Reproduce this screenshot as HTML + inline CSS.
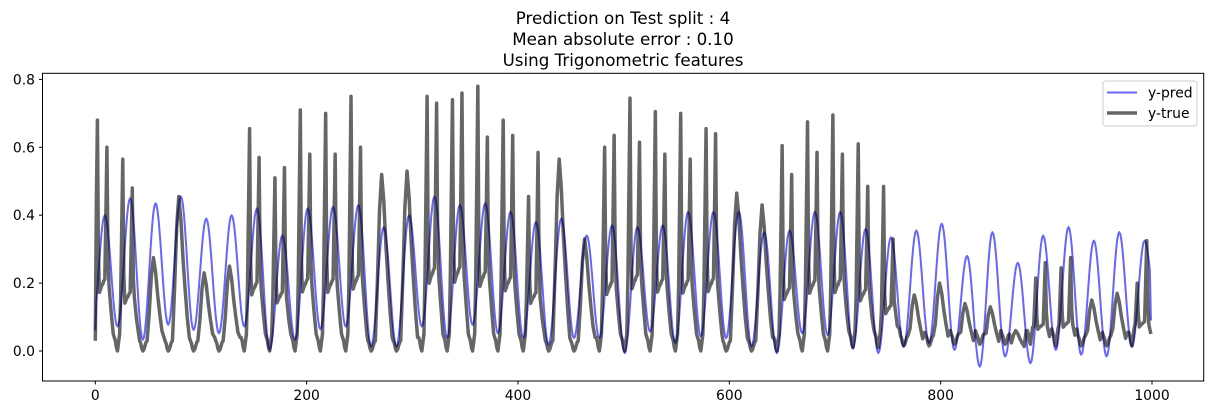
<!DOCTYPE html>
<html><head><meta charset="utf-8"><style>
html,body{margin:0;padding:0;background:#fff;}
svg{display:block;font-family:"DejaVu Sans","Liberation Sans",sans-serif;}
</style></head><body>
<svg id="chart" width="1214" height="415" viewBox="0 0 1214 415" xmlns="http://www.w3.org/2000/svg">
<rect width="1214" height="415" fill="#fff"/>
<g font-size="16.7" text-anchor="middle" fill="#000">
<text x="623" y="24">Prediction on Test split : 4</text>
<text x="623" y="45">Mean absolute error : 0.10</text>
<text x="623" y="66">Using Trigonometric features</text>
</g>
<defs><clipPath id="plotclip"><rect x="42.5" y="73.3" width="1161.2" height="307.7"/></clipPath></defs>
<g id="series" clip-path="url(#plotclip)"></g>
<rect x="42.5" y="73.3" width="1161.2" height="307.7" fill="none" stroke="#000" stroke-width="1"/>
<g id="xaxis"></g>
<g id="yaxis"></g>
<g>
<rect x="1103" y="81" width="94" height="45" rx="3" fill="#fff" fill-opacity="0.8" stroke="#ccc"/>
<line x1="1107" y1="92.5" x2="1137" y2="92.5" stroke="#0000ff" stroke-opacity="0.6" stroke-width="2"/>
<text x="1148" y="97.5" font-size="13.9">y-pred</text>
<line x1="1107" y1="113" x2="1137" y2="113" stroke="#000" stroke-opacity="0.6" stroke-width="3.5"/>
<text x="1148" y="118" font-size="13.9">y-true</text>
</g>
</svg>
<script>
// per-day data (42 days, hourly samples)
const dayType = ['W','W','E','E','E','E','W','W','W','W','W','E','E','W','W','W','W','W','E','E','W','W','W','W','W','E','E','W','W','W','W','W','E','E','E','E','E','W','W','E','E','W'];
const morningPeak = [0.68,0.565,0,0,0,0,0.655,0.51,0.71,0.70,0.75,0,0,0.75,0.74,0.78,0.68,0.455,0,0,0.60,0.745,0.705,0.70,0.655,0,0,0.605,0.675,0.695,0.61,0.485,0,0,0,0,0,0.215,0.245,0,0,0.20];
const eveningPeak = [0.60,0.48,0,0,0,0,0.57,0.54,0.58,0.58,0.60,0,0,0.73,0.76,0.63,0.635,0.585,0,0,0.635,0.615,0.58,0.565,0.64,0,0,0.52,0.585,0.58,0.485,0.33,0,0,0,0,0,0.26,0.275,0,0,0.325];
const humpPeak = [0,0,0.275,0.455,0.23,0.25,0,0,0,0,0,0.52,0.53,0,0,0,0,0,0.565,0.33,0,0,0,0,0,0.465,0.43,0,0,0,0,0,0.165,0.20,0.14,0.13,0.06,0,0,0.15,0.17,0];
const trueMin = [0.03,0,0,0,0,0,0,0,0,0,0,0,0,0,0,0,0,0,0,0,0,0,0,0,0,0,0,0,0,0,0.01,0.01,0.015,0.015,0.02,0.02,0.02,0.02,0.015,0.015,0.015,0.015];
const predPeak = [0.40,0.45,0.435,0.455,0.39,0.40,0.42,0.34,0.42,0.425,0.43,0.365,0.40,0.455,0.43,0.435,0.41,0.38,0.39,0.34,0.37,0.365,0.37,0.41,0.41,0.41,0.35,0.355,0.41,0.41,0.36,0.335,0.355,0.375,0.28,0.35,0.26,0.34,0.365,0.325,0.35,0.325];
const predMin = [0.06,0.072,0.033,0.077,0.062,0.052,0.072,0.003,0.033,0.064,0.072,0.013,0.013,0.072,0.038,0.077,0.052,0.038,0.018,0.038,0.038,-0.006,0.057,0.023,0.043,0.038,0.013,-0.006,0.052,0.047,0.008,-0.006,0.013,0.023,0.003,-0.046,-0.016,-0.036,0.003,-0.011,-0.016,0.013];
const endValues = [0.09, 0.05];
const xTicks = [0,200,400,600,800,1000];
const yTicks = [0.0,0.2,0.4,0.6,0.8];
const N = 1000;

const X0 = 95.3, XS = 1.0567, Y0 = 351, YS = 339.5;
function xScale(i){ return X0 + XS*i; }
function yScale(v){ return Y0 - YS*v; }

function interp(pts, h){
  for (let j=0;j<pts.length-1;j++){
    const a=pts[j], b=pts[j+1];
    if (h>=a[0] && h<=b[0]){ const t=(h-a[0])/(b[0]-a[0]); return a[1]+(b[1]-a[1])*(0.5-0.5*Math.cos(Math.PI*t)); }
  }
  return pts[pts.length-1][1];
}
function trueAt(i){
  const k = Math.floor((i+6)/24), h = i+6-24*k;
  if (i===0) return trueMin[0];
  const mn = trueMin[k], nxt = k+1<trueMin.length ? trueMin[k+1] : endValues[1];
  if (dayType[k]==='W'){
    const m=morningPeak[k], e=eveningPeak[k], mid=0.3*(m+e)/2;
    return interp([[0,mn+0.04],[3,mn],[5,mn+0.05],[6,mid],[7,(m+mid)/2],[8,m],[9,mid*1.4],[10,mid*0.9],[12,mid],[15,mid*1.1],[16,(e+mid)/2],[17,e],[18,e*0.45],[19,mid],[21,mid*0.6],[23,nxt+0.05],[24,nxt+0.04]],h);
  } else {
    const w=humpPeak[k];
    return interp([[0,mn+0.03],[3,mn],[7,mn+0.03],[9,0.4*w],[11,0.8*w],[13,w],[15,0.85*w],[17,0.6*w],[19,0.4*w],[21,0.22*w],[23,nxt+0.04],[24,nxt+0.03]],h);
  }
}
function predAt(i){
  const k = Math.floor((i+6)/24), h = i+6-24*k;
  if (i===0) return predMin[0];
  const nxt = k+1<predMin.length ? predMin[k+1] : endValues[0];
  const q = predMin[k], p = predPeak[k];
  if (h<=3 && k===0) return q;
  if (h<=3){ return interp([[-9,predPeak[k-1]],[3,q]],h); }
  if (h<=15) return interp([[3,q],[15,p]],h);
  return interp([[15,p],[27,nxt]],h);
}
const svg = document.getElementById('chart');
const ns = 'http://www.w3.org/2000/svg';
const series = document.getElementById('series');
function drawLine(fn, color, width, name){
  let d='';
  for (let i=0;i<N;i++){ let v=fn(i); if(i===N-1 && name==='y-pred-line') v=endValues[0]; if(i===N-1 && name==='y-true-line') v=endValues[1]; d += (i?'L':'M')+xScale(i).toFixed(2)+' '+yScale(v).toFixed(2); }
  const p=document.createElementNS(ns,'path');
  p.setAttribute('d',d); p.setAttribute('fill','none'); p.setAttribute('stroke',color);
  p.setAttribute('stroke-opacity','0.6'); p.setAttribute('stroke-width',width); p.setAttribute('stroke-linejoin','round');
  
  
  series.appendChild(p);
}
drawLine(predAt,'#0000ff',2,'y-pred-line');
drawLine(trueAt,'#000000',3.5,'y-true-line');

const xa=document.getElementById('xaxis');
xTicks.forEach(t=>{
  const x=xScale(t);
  const l=document.createElementNS(ns,'line');
  l.setAttribute('x1',x);l.setAttribute('x2',x);l.setAttribute('y1',381);l.setAttribute('y2',384.5);l.setAttribute('stroke','#000');
  
  
  xa.appendChild(l);
  const tx=document.createElementNS(ns,'text');
  tx.setAttribute('x',x);tx.setAttribute('y',400);tx.setAttribute('font-size','13.9');tx.setAttribute('text-anchor','middle');
  tx.textContent=String(t);
  
  
  xa.appendChild(tx);
});
const ya=document.getElementById('yaxis');
yTicks.forEach(t=>{
  const y=yScale(t);
  const l=document.createElementNS(ns,'line');
  l.setAttribute('x1',39);l.setAttribute('x2',42.5);l.setAttribute('y1',y);l.setAttribute('y2',y);l.setAttribute('stroke','#000');
  
  
  ya.appendChild(l);
  const tx=document.createElementNS(ns,'text');
  tx.setAttribute('x',35);tx.setAttribute('y',y+5);tx.setAttribute('font-size','13.9');tx.setAttribute('text-anchor','end');
  tx.textContent=t.toFixed(1);
  
  
  ya.appendChild(tx);
});
</script>
</body></html>
